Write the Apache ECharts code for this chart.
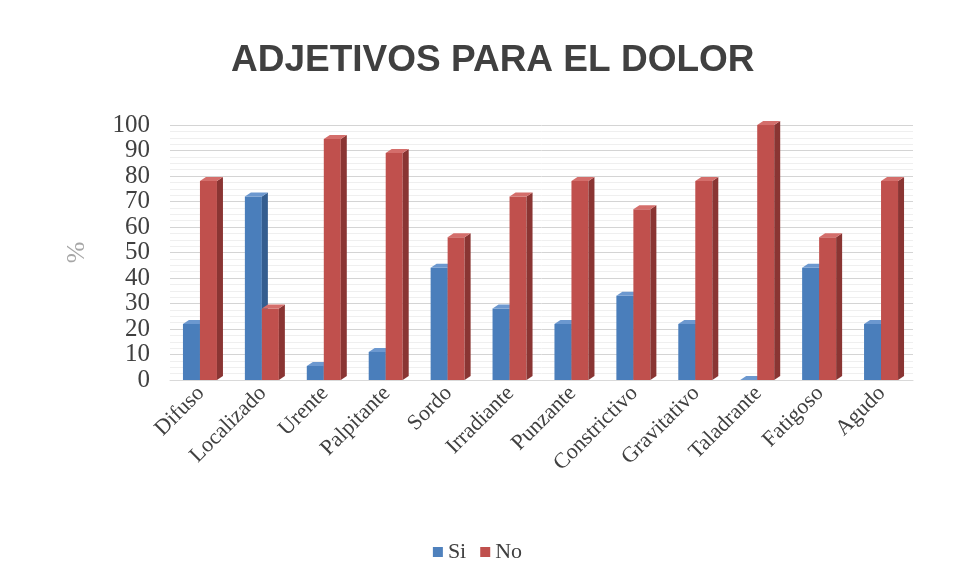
<!DOCTYPE html>
<html>
<head>
<meta charset="utf-8">
<script src="https://cdn.jsdelivr.net/npm/echarts@6/dist/echarts.min.js"></script>
<style>
  html, body { margin: 0; padding: 0; background: #fff; }
  #chart { width: 955px; height: 580px; }
</style>
</head>
<body>
<div id="chart"></div>
<script>
// categorias y porcentajes
const categories = ['Difuso', 'Localizado', 'Urente', 'Palpitante', 'Sordo', 'Irradiante', 'Punzante', 'Constrictivo', 'Gravitativo', 'Taladrante', 'Fatigoso', 'Agudo']
const siValues = [22, 72, 5.5, 11, 44, 28, 22, 33, 22, 0, 44, 22]
const noValues = [78, 28, 94.5, 89, 56, 72, 78, 67, 78, 100, 56, 78]
const yTicks = [0, 10, 20, 30, 40, 50, 60, 70, 80, 90, 100]

const chart = echarts.init(document.getElementById('chart'))

// colores de cada cara (frente, lado, arriba)
const faces = [
  { front: '#4a7ebb', side: '#345d8f', top: '#6c98cf' },
  { front: '#c0504d', side: '#8a3533', top: '#d46e6b' },
]

// barra con aspecto 3d
function bar3d(params, api) {
  const top = api.coord([api.value(0), api.value(1)])
  const base = api.coord([api.value(0), 0])
  const w = 17
  const dx = 6
  const dy = -4
  const x0 = params.seriesIndex === 0 ? top[0] - w - 1 : top[0] - 1
  const c = faces[params.seriesIndex]
  return {
    type: 'group',
    children: [
      {
        type: 'rect',
        shape: { x: x0, y: top[1], width: w, height: base[1] - top[1] },
        style: { fill: c.front },
      },
      {
        type: 'polygon',
        shape: { points: [[x0 + w, top[1]], [x0 + w + dx, top[1] + dy], [x0 + w + dx, base[1] + dy], [x0 + w, base[1]]] },
        style: { fill: c.side },
      },
      {
        type: 'polygon',
        shape: { points: [[x0, top[1]], [x0 + dx, top[1] + dy], [x0 + w + dx, top[1] + dy], [x0 + w, top[1]]] },
        style: { fill: c.top },
      },
    ],
  }
}

const option = {
  backgroundColor: '#fff',
  title: {
    text: 'ADJETIVOS PARA EL DOLOR',
    left: 226,
    top: 37,
    textStyle: {
      fontFamily: 'Liberation Sans',
      fontWeight: 'bold',
      fontSize: 37,
      color: '#404040',
    },
  },
  legend: {
    bottom: 12,
    left: 'center',
    icon: 'rect',
    itemWidth: 10,
    itemHeight: 10,
    itemGap: 14,
    textStyle: { fontFamily: 'Liberation Serif', fontSize: 22, color: '#404040' },
    data: ['Si', 'No'],
  },
  grid: { left: 170, right: 42, top: 125, bottom: 200 },
  xAxis: {
    type: 'category',
    data: categories,
    axisLine: { show: true, lineStyle: { color: '#d9d9d9' } },
    axisTick: { show: false },
    axisLabel: {
      rotate: 45,
      interval: 0,
      margin: 10,
      fontFamily: 'Liberation Serif',
      fontSize: 22,
      color: '#404040',
    },
  },
  yAxis: {
    type: 'value',
    min: yTicks[0],
    max: yTicks[yTicks.length - 1],
    interval: 10,
    name: '%',
    nameLocation: 'middle',
    nameGap: 80,
    nameRotate: 90,
    nameTextStyle: { fontFamily: 'Liberation Serif', fontSize: 26, color: '#a6a6a6' },
    axisLine: { show: false },
    axisTick: { show: false },
    axisLabel: {
      margin: 20,
      fontFamily: 'Liberation Serif',
      fontSize: 25,
      color: '#404040',
    },
    splitLine: { show: true, lineStyle: { color: '#d4d4d4', width: 1 } },
    minorTick: { show: false, splitNumber: 4 },
    minorSplitLine: { show: true, lineStyle: { color: '#efefef', width: 1 } },
  },
  series: [
    {
      name: 'Si',
      type: 'custom',
      renderItem: bar3d,
      itemStyle: { color: '#4f81bd' },
      data: siValues.map((v, i) => [i, v]),
      encode: { x: 0, y: 1 },
    },
    {
      name: 'No',
      type: 'custom',
      renderItem: bar3d,
      itemStyle: { color: '#c0504d' },
      data: noValues.map((v, i) => [i, v]),
      encode: { x: 0, y: 1 },
    },
  ],
}

chart.setOption(option)
</script>
</body>
</html>
